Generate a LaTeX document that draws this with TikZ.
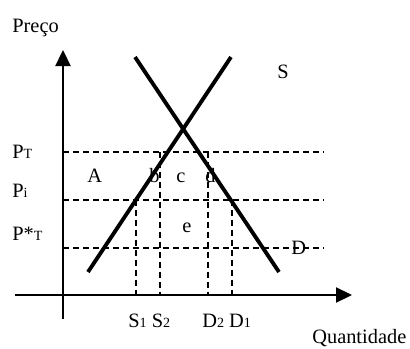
\documentclass[tikz,border=0pt]{standalone}
\usepackage{fontspec}
\setmainfont{Liberation Serif}
\usetikzlibrary{arrows.meta}
\newcommand{\smallidx}[1]{{\fontsize{8}{9}\selectfont #1}}

\begin{document}
\begin{tikzpicture}[
    x=0.02cm, y=-0.02cm,
    lab/.style={font=\fontsize{11.6}{13}\selectfont, inner sep=0pt, anchor=base west},
    axis/.style={line width=1.3pt, -{Triangle[width=0.3cm,length=0.32cm]}},
    curve/.style={line width=2.2pt},
    guide/.style={line width=0.9pt, dash pattern=on 0.12cm off 0.08cm},
]
\useasboundingbox (0,0) rectangle (410,349);

% Axis titles
\node[lab] (preco) at (12,32)  {Preço};
\node[lab] (quant) at (312,343) {Quantidade};

% Price labels
\node[lab] (pT)    at (12,158) {P\smallidx{T}};
\node[lab] (pI)    at (12,197) {P\smallidx{i}};
\node[lab] (pStar) at (12,240) {P*\smallidx{T}};

% Area labels
\node[lab] (areaA) at (87,182)  {A};
\node[lab] (areaB) at (149,182) {b};
\node[lab] (areaC) at (176,182) {c};
\node[lab] (areaD) at (205,182) {d};
\node[lab] (areaE) at (182,232) {e};

% Curve labels
\node[lab] (labS) at (277,78)  {S};
\node[lab] (labD) at (291,254) {D};

% Quantity labels
\node[lab] (qS) at (128,327) {S\smallidx{1} S\smallidx{2}};
\node[lab] (qD) at (202,327) {D\smallidx{2} D\smallidx{1}};

% Price levels
\coordinate (pT0) at (63,152);  \coordinate (pT1) at (324,152);
\coordinate (pI0) at (63,200);  \coordinate (pI1) at (324,200);
\coordinate (pS0) at (63,248);  \coordinate (pS1) at (324,248);
\draw[guide] (pT0) -- (pT1);
\draw[guide] (pI0) -- (pI1);
\draw[guide] (pS0) -- (pS1);

% Quantity drops
\coordinate (s1top) at (136,200); \coordinate (s1bot) at (136,295);
\coordinate (s2top) at (160,152); \coordinate (s2bot) at (160,295);
\coordinate (d2top) at (208,152); \coordinate (d2bot) at (208,295);
\coordinate (d1top) at (232,200); \coordinate (d1bot) at (232,295);
\draw[guide] (s1top) -- (s1bot);
\draw[guide] (s2top) -- (s2bot);
\draw[guide] (d2top) -- (d2bot);
\draw[guide] (d1top) -- (d1bot);

% Supply and demand
\coordinate (supLo) at (88,272);  \coordinate (supHi) at (231,57);
\coordinate (demHi) at (135,57);  \coordinate (demLo) at (279,272);
\draw[curve] (supLo) -- (supHi);
\draw[curve] (demHi) -- (demLo);

% Axes
\coordinate (yBot) at (63,319);  \coordinate (yTop) at (63,50);
\coordinate (xLeft) at (15,295); \coordinate (xRight) at (352,295);
\draw[axis] (yBot) -- (yTop);
\draw[axis] (xLeft) -- (xRight);
\end{tikzpicture}
\end{document}
